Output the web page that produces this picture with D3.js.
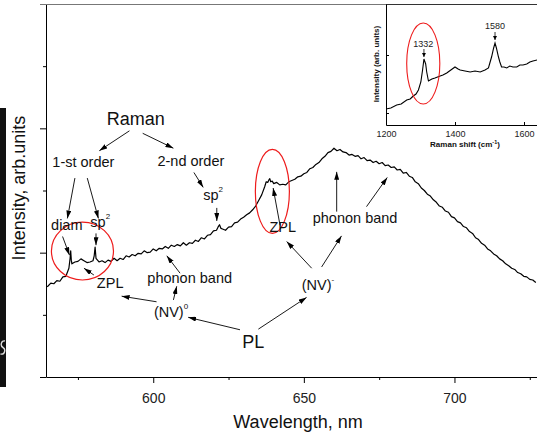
<!DOCTYPE html>
<html>
<head>
<meta charset="utf-8">
<script src="https://cdn.jsdelivr.net/npm/d3@7"></script>
<style>
	body { margin: 0; background: #fff; }
	svg { display: block; font-family: "Liberation Sans", Arial, sans-serif; }
</style>
</head>
<body>
<svg id="chart" width="537" height="439"></svg>
<script>
// main PL spectrum: wavelength (nm) and intensity (arb. units)
var wavelength = [
	564.5, 565, 566, 567, 568, 569, 570, 571, 572, 572.4, 572.6, 572.8, 573, 574, 575, 576, 577, 578, 579, 580,
	580.4, 580.7, 581, 582, 583, 584, 585, 586, 587, 588, 589, 590, 591, 592, 593, 594, 595, 596, 597, 598,
	599, 600, 601, 602, 603, 604, 605, 606, 607, 608, 609, 610, 611, 612, 613, 614, 615, 616, 617, 618,
	619, 620, 621, 621.5, 622, 622.5, 623, 624, 625, 626, 627, 628, 629, 630, 631, 632, 633, 634, 635, 636,
	637, 637.5, 638, 638.4, 638.7, 639, 639.5, 640, 641, 642, 643, 644, 645, 646, 647, 648, 649, 650, 651, 652,
	653, 654, 655, 656, 657, 658, 659, 660, 661, 662, 663, 664, 665, 666, 667, 668, 669, 670, 671, 672,
	673, 674, 675, 676, 677, 678, 679, 680, 681, 682, 683, 684, 685, 686, 687, 688, 689, 690, 691, 692,
	693, 694, 695, 696, 697, 698, 699, 700, 701, 702, 703, 704, 705, 706, 707, 708, 709, 710, 711, 712,
	713, 714, 715, 716, 717, 718, 719, 720, 721, 722, 723, 724, 725, 726, 727
];
var intensity = [
	1.45, 1.46, 1.51, 1.50, 1.55, 1.54, 1.61, 1.62, 1.75, 1.91, 2.03, 1.88, 1.82, 1.85, 1.86, 1.90, 1.87, 1.84, 1.85, 1.87,
	1.95, 2.09, 1.91, 1.85, 1.87, 1.84, 1.88, 1.86, 1.91, 1.87, 1.91, 1.89, 1.95, 1.93, 1.97, 1.95, 1.99, 1.98, 2.03, 2.00,
	2.01, 2.06, 2.03, 2.07, 2.06, 2.10, 2.07, 2.12, 2.10, 2.13, 2.11, 2.16, 2.12, 2.16, 2.15, 2.20, 2.18, 2.24, 2.22, 2.28,
	2.29, 2.35, 2.36, 2.41, 2.45, 2.39, 2.38, 2.36, 2.41, 2.42, 2.48, 2.49, 2.54, 2.57, 2.61, 2.64, 2.69, 2.75, 2.84, 2.93,
	3.06, 3.14, 3.13, 3.17, 3.19, 3.14, 3.15, 3.11, 3.13, 3.09, 3.10, 3.09, 3.14, 3.16, 3.18, 3.22, 3.23, 3.27, 3.29, 3.35,
	3.37, 3.42, 3.45, 3.51, 3.55, 3.61, 3.63, 3.68, 3.64, 3.66, 3.62, 3.61, 3.57, 3.58, 3.55, 3.56, 3.51, 3.53, 3.48, 3.49,
	3.45, 3.47, 3.43, 3.45, 3.40, 3.41, 3.37, 3.38, 3.33, 3.34, 3.28, 3.29, 3.23, 3.21, 3.14, 3.11, 3.04, 3.00, 2.94, 2.91,
	2.85, 2.81, 2.75, 2.73, 2.67, 2.65, 2.58, 2.56, 2.50, 2.48, 2.42, 2.40, 2.34, 2.31, 2.24, 2.21, 2.15, 2.12, 2.06, 2.03,
	1.98, 1.95, 1.90, 1.87, 1.82, 1.79, 1.75, 1.73, 1.68, 1.66, 1.62, 1.61, 1.57, 1.56, 1.52
];

// inset Raman spectrum
var ramanShift = [1200, 1214, 1231, 1244, 1260, 1270, 1279, 1287, 1294, 1301, 1306, 1310, 1315, 1318, 1323, 1333,
	1342, 1357, 1365, 1376, 1388, 1400, 1409, 1415, 1429, 1444, 1458, 1473, 1487, 1497, 1501, 1506, 1512,
	1516, 1520, 1526, 1530, 1535, 1542, 1550, 1559, 1568, 1579, 1588, 1597, 1608, 1617, 1626, 1638];
var ramanIntensity = [0.16, 0.17, 0.20, 0.21, 0.25, 0.26, 0.29, 0.31, 0.35, 0.43, 0.55, 0.66, 0.61, 0.53, 0.44, 0.46,
	0.47, 0.49, 0.50, 0.52, 0.55, 0.58, 0.56, 0.55, 0.54, 0.53, 0.54, 0.53, 0.55, 0.57, 0.62, 0.68, 0.77,
	0.82, 0.77, 0.68, 0.63, 0.58, 0.58, 0.57, 0.59, 0.58, 0.58, 0.60, 0.60, 0.61, 0.63, 0.64, 0.65];

// tick values
var xMajorTicks = [600, 650, 700];
var xMinorTicks = [575, 625, 675, 725];
var yMajorTicks = [0, 2, 4, 6];
var yMinorTicks = [1, 3, 5];
var insetXTicks = [1200, 1400, 1600];
var insetYTicks = [0.12, 0.7];

// annotations, anchored in data units (wavelength, intensity)
var notes = [
	{text: "Raman", at: [594.2, 4.05], big: true},
	{text: "1-st order", at: [576.8, 3.38]},
	{text: "2-nd order", at: [612.5, 3.40]},
	{text: "sp", sup: "2", at: [619.9, 2.85]},
	{text: "diam", at: [571.3, 2.36]},
	{text: "sp", sup: "2", at: [582.4, 2.42]},
	{text: "ZPL", at: [585.7, 1.43]},
	{text: "phonon band", at: [612.1, 1.51]},
	{text: "(NV)", sup: "0", at: [605.9, 0.97]},
	{text: "PL", at: [633.2, 0.46], big: true},
	{text: "(NV)", sup: "-", at: [654.7, 1.40]},
	{text: "ZPL", at: [643.0, 2.34]},
	{text: "phonon band", at: [667.0, 2.47]}
];
// arrows: [from wl, from I, to wl, to I]
var arrows = [
	[592.1, 3.96, 582.1, 3.64], [596.5, 3.92, 606.7, 3.68],
	[574.0, 3.20, 571.5, 2.55], [578.1, 3.20, 581.8, 2.55],
	[613.5, 3.29, 616.6, 3.05], [621.1, 2.72, 621.1, 2.51],
	[569.9, 2.26, 572.2, 1.96], [581.0, 2.31, 581.0, 2.12],
	[580.3, 1.64, 577.0, 1.75], [608.9, 1.67, 604.5, 1.95],
	[606.7, 1.24, 607.8, 1.46], [601.1, 1.21, 589.5, 1.30],
	[628.8, 0.76, 611.6, 0.96], [634.9, 0.77, 650.9, 1.28],
	[652.6, 1.75, 644.3, 2.18], [655.9, 1.77, 662.5, 2.27],
	[642.1, 2.44, 639.8, 3.04], [660.9, 2.66, 660.9, 3.30],
	[670.8, 2.74, 677.7, 3.21]
];
// red ellipses: [wl min, wl max, I min, I max]
var circles = [[566.2, 586.8, 1.56, 2.49], [633.9, 645.2, 2.31, 3.66]];

// inset annotations (Raman shift, intensity)
var insetNotes = [{text: "1332", at: [1308, 0.78]}, {text: "1580", at: [1516, 0.96]}];
var insetArrows = [[1310, 0.76, 1310, 0.68], [1516, 0.93, 1516, 0.85]];
var insetCircle = [1260, 1356, 0.21, 1.02];

var margin = {top: 4, right: 0, bottom: 62, left: 46},
	width = 537 - margin.left - margin.right,
	height = 439 - margin.top - margin.bottom;

var svg = d3.select("#chart");
var defs = svg.append("defs");

function marker(id, len, wid) {
	defs.append("marker")
		.attr("id", id)
		.attr("viewBox", "0 0 " + len + " " + wid)
		.attr("refX", len).attr("refY", wid / 2)
		.attr("markerWidth", len).attr("markerHeight", wid)
		.attr("markerUnits", "userSpaceOnUse")
		.attr("orient", "auto")
		.append("path")
		.attr("d", "M0,0L" + len + "," + (wid / 2) + "L0," + wid + "Z")
		.attr("fill", "#000");
}
marker("head", 8, 5);
marker("headSmall", 4, 4);

// cropped black strip on the left edge (a bit of a cut-off letter shows in it)
svg.append("rect").attr("x", 0).attr("y", 108).attr("width", 6).attr("height", 279).attr("fill", "#111");
svg.append("path")
	.attr("d", "M5,341C1,340 0,346 3,347.5C6,349 5,355 0.5,354")
	.attr("fill", "none").attr("stroke", "#ddd").attr("stroke-width", 1.4);

var x = d3.scaleLinear().domain([564.4, 727.4]).range([0, width]);
var y = d3.scaleLinear().domain([0, 6]).range([height, 0]);

var g = svg.append("g").attr("transform", "translate(" + margin.left + "," + margin.top + ")");

// axes
g.append("g")
	.attr("transform", "translate(0," + height + ")")
	.call(d3.axisBottom(x).tickValues(xMajorTicks).tickSize(6).tickSizeOuter(0).tickPadding(10).tickFormat(d3.format("d")))
	.call(function(a) {
		a.selectAll("text").style("font-size", "14px").style("font-family", "'Liberation Sans', Arial, sans-serif").attr("fill", "#222");
	});
g.append("g")
	.attr("transform", "translate(0," + height + ")")
	.call(d3.axisBottom(x).tickValues(xMinorTicks).tickSize(3).tickFormat(""))
	.call(function(a) { a.select(".domain").remove(); });
g.append("g")
	.call(d3.axisLeft(y).tickValues(yMajorTicks).tickSize(6).tickSizeOuter(0).tickFormat(""));
g.append("g")
	.call(d3.axisLeft(y).tickValues(yMinorTicks).tickSize(3).tickFormat(""))
	.call(function(a) { a.select(".domain").remove(); });
// top frame line
g.append("line")
	.attr("x1", -6).attr("x2", width)
	.attr("y1", y(6) + 0.5).attr("y2", y(6) + 0.5)
	.attr("stroke", "#777");

// spectrum
var line = d3.line()
	.x(function(d) { return x(d[0]); })
	.y(function(d) { return y(d[1]); });
g.append("path")
	.datum(d3.zip(wavelength, intensity))
	.attr("d", line)
	.attr("fill", "none")
	.attr("stroke", "#000")
	.attr("stroke-width", 1.2)
	.attr("stroke-linejoin", "round");

// red ellipses
g.selectAll(".ring")
	.data(circles)
	.enter().append("ellipse")
	.attr("cx", function(d) { return (x(d[0]) + x(d[1])) / 2; })
	.attr("cy", function(d) { return (y(d[2]) + y(d[3])) / 2; })
	.attr("rx", function(d) { return (x(d[1]) - x(d[0])) / 2; })
	.attr("ry", function(d) { return (y(d[2]) - y(d[3])) / 2; })
	.attr("fill", "none")
	.attr("stroke", "#ee1c1c")
	.attr("stroke-width", 1.2);

// arrows
g.selectAll(".arrow")
	.data(arrows)
	.enter().append("line")
	.attr("x1", function(d) { return x(d[0]); })
	.attr("y1", function(d) { return y(d[1]); })
	.attr("x2", function(d) { return x(d[2]); })
	.attr("y2", function(d) { return y(d[3]); })
	.attr("stroke", "#000")
	.attr("stroke-width", 0.9)
	.attr("marker-end", "url(#head)");

// labels
var lab = g.selectAll(".note")
	.data(notes)
	.enter().append("text")
	.attr("x", function(d) { return x(d.at[0]); })
	.attr("y", function(d) { return y(d.at[1]); })
	.attr("text-anchor", "middle")
	.attr("fill", "#111")
	.style("font-size", function(d) { return d.big ? "18px" : "14.5px"; })
	.text(function(d) { return d.text; });
lab.filter(function(d) { return d.sup; })
	.append("tspan")
	.attr("dy", -8)
	.style("font-size", "8px")
	.text(function(d) { return d.sup; });

// axis titles
g.append("text")
	.attr("x", 252)
	.attr("y", height + 51)
	.attr("text-anchor", "middle")
	.attr("fill", "#111")
	.style("font-size", "18px")
	.text("Wavelength, nm");
svg.append("text")
	.attr("transform", "translate(24.5,188) rotate(-90)")
	.attr("text-anchor", "middle")
	.attr("fill", "#111")
	.style("font-size", "18px")
	.text("Intensity, arb.units");

// ---- inset ----
var ix = d3.scaleLinear().domain([1200, 1600]).range([386, 524]);
var iy = d3.scaleLinear().domain([0, 1.21]).range([125, 4]);
var inset = svg.append("g");

inset.append("rect").attr("x", 386).attr("y", 4).attr("width", 151).attr("height", 121).attr("fill", "#fff");
inset.append("line").attr("x1", 386).attr("x2", 537).attr("y1", 4.5).attr("y2", 4.5).attr("stroke", "#333");
inset.append("g")
	.attr("transform", "translate(0,125)")
	.call(d3.axisBottom(ix).tickValues(insetXTicks).tickSize(-3).tickSizeOuter(0).tickPadding(5.5).tickFormat(d3.format("d")))
	.call(function(a) {
		a.select(".domain").attr("d", "M386.5,0.5H537");
		a.selectAll("text").style("font-size", "9px").style("font-family", "'Liberation Sans', Arial, sans-serif").attr("fill", "#222");
	});
inset.append("g")
	.attr("transform", "translate(386,0)")
	.call(d3.axisLeft(iy).tickValues(insetYTicks).tickSize(-3).tickSizeOuter(0).tickFormat(""));

inset.append("path")
	.datum(d3.zip(ramanShift, ramanIntensity))
	.attr("d", d3.line().x(function(d) { return ix(d[0]); }).y(function(d) { return iy(d[1]); }))
	.attr("fill", "none")
	.attr("stroke", "#000")
	.attr("stroke-width", 1.1);

inset.append("ellipse")
	.attr("cx", (ix(insetCircle[0]) + ix(insetCircle[1])) / 2)
	.attr("cy", (iy(insetCircle[2]) + iy(insetCircle[3])) / 2)
	.attr("rx", (ix(insetCircle[1]) - ix(insetCircle[0])) / 2)
	.attr("ry", (iy(insetCircle[2]) - iy(insetCircle[3])) / 2)
	.attr("fill", "none")
	.attr("stroke", "#ee1c1c")
	.attr("stroke-width", 1.1);

inset.selectAll(".iarrow")
	.data(insetArrows)
	.enter().append("line")
	.attr("x1", function(d) { return ix(d[0]); })
	.attr("y1", function(d) { return iy(d[1]); })
	.attr("x2", function(d) { return ix(d[2]); })
	.attr("y2", function(d) { return iy(d[3]); })
	.attr("stroke", "#000")
	.attr("stroke-width", 0.8)
	.attr("marker-end", "url(#headSmall)");

inset.selectAll(".inote")
	.data(insetNotes)
	.enter().append("text")
	.attr("x", function(d) { return ix(d.at[0]); })
	.attr("y", function(d) { return iy(d.at[1]); })
	.attr("text-anchor", "middle")
	.attr("fill", "#222")
	.style("font-size", "9px")
	.text(function(d) { return d.text; });

inset.append("text")
	.attr("transform", "translate(379,64) rotate(-90)")
	.attr("text-anchor", "middle")
	.attr("fill", "#111")
	.style("font-size", "8px")
	.style("font-weight", "bold")
	.text("Intensity (arb. units)");
var ixl = inset.append("text")
	.attr("x", 465)
	.attr("y", 147)
	.attr("text-anchor", "middle")
	.attr("fill", "#111")
	.style("font-size", "8px")
	.style("font-weight", "bold")
	.text("Raman shift (cm");
ixl.append("tspan").attr("dy", -3).style("font-size", "5.5px").text("-1");
ixl.append("tspan").attr("dy", 3).text(")");
</script>
</body>
</html>
